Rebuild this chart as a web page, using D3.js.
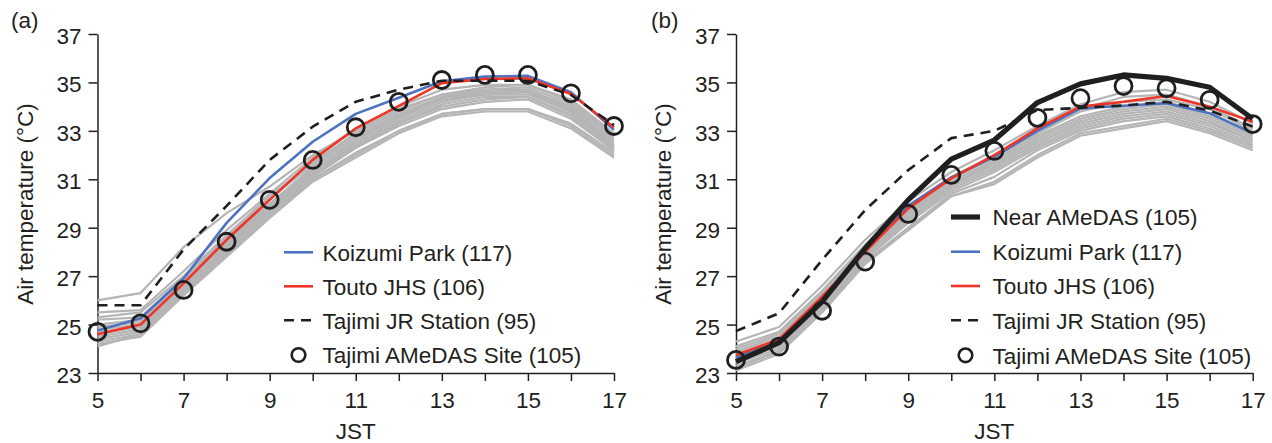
<!DOCTYPE html>
<html>
<head>
<meta charset="utf-8">
<script src="https://cdn.jsdelivr.net/npm/d3@7"></script>
<style>
  html, body { margin: 0; padding: 0; background: #fff; }
  svg { display: block; }
  text { font-family: "Liberation Sans", Arial, Helvetica, sans-serif; fill: #231f20; }
</style>
</head>
<body>
<svg id="chart" width="1272" height="443"></svg>
<script>
// ---------------- data ----------------
const hours = [5, 6, 7, 8, 9, 10, 11, 12, 13, 14, 15, 16, 17];
const yTicks = [23, 25, 27, 29, 31, 33, 35, 37];
const xTickLabels = ["5", "", "7", "", "9", "", "11", "", "13", "", "15", "", "17"];

// Panel (a)
const koizumiA = [24.75, 25.26, 26.9, 29.2, 31.05, 32.55, 33.7, 34.37, 35.05, 35.24, 35.27, 34.6, 33.04];
const toutoA   = [24.6, 25.0, 26.7, 28.5, 30.15, 31.8, 33.1, 34.03, 34.97, 35.14, 35.17, 34.52, 33.15];
const jrA      = [25.8, 25.8, 28.1, 29.9, 31.8, 33.17, 34.2, 34.7, 35.07, 35.07, 35.07, 34.48, 33.24];
const amedasA  = [24.7, 25.05, 26.43, 28.42, 30.15, 31.8, 33.15, 34.2, 35.1, 35.31, 35.31, 34.55, 33.2];
const grayA = [
  [26.0, 26.3, 28.2, 29.6, 30.7, 32.0, 33.0, 33.9, 34.5, 34.8, 34.9, 34.2, 32.8],
  [25.5, 25.6, 27.2, 28.9, 30.4, 31.9, 33.1, 34.0, 34.7, 34.9, 34.9, 34.3, 32.9],
  [25.3, 25.5, 27.0, 28.7, 30.3, 31.7, 32.9, 33.8, 34.5, 34.7, 34.8, 34.1, 32.7],
  [25.2, 25.3, 26.9, 28.6, 30.2, 31.6, 32.8, 33.7, 34.4, 34.7, 34.7, 34.0, 32.6],
  [25.0, 25.2, 26.8, 28.5, 30.0, 31.5, 32.7, 33.6, 34.4, 34.6, 34.7, 33.9, 32.5],
  [24.9, 25.1, 26.7, 28.4, 29.9, 31.4, 32.6, 33.6, 34.3, 34.6, 34.6, 33.9, 32.4],
  [24.8, 25.0, 26.6, 28.3, 29.9, 31.3, 32.5, 33.5, 34.3, 34.5, 34.6, 33.8, 32.4],
  [24.7, 24.9, 26.6, 28.2, 29.8, 31.3, 32.4, 33.4, 34.2, 34.5, 34.5, 33.8, 32.3],
  [24.6, 24.9, 26.5, 28.2, 29.7, 31.2, 32.4, 33.3, 34.1, 34.4, 34.4, 33.7, 32.3],
  [24.5, 24.8, 26.4, 28.1, 29.7, 31.2, 32.3, 33.3, 34.0, 34.3, 34.4, 33.6, 32.2],
  [24.4, 24.7, 26.4, 28.0, 29.6, 31.1, 32.3, 33.2, 33.9, 34.2, 34.3, 33.5, 32.2],
  [24.3, 24.6, 26.3, 27.9, 29.5, 31.0, 32.1, 33.0, 33.7, 33.9, 33.9, 33.3, 32.1],
  [24.2, 24.5, 26.2, 27.8, 29.4, 30.9, 31.9, 32.9, 33.6, 33.8, 33.8, 33.1, 31.9],
  [24.1, 24.6, 26.3, 27.9, 29.5, 31.0, 32.0, 33.0, 33.7, 33.9, 33.9, 33.2, 32.0]
];

// Panel (b)
const nearB    = [23.47, 24.25, 25.95, 28.15, 30.15, 31.83, 32.62, 34.17, 34.94, 35.31, 35.17, 34.8, 33.5];
const koizumiB = [23.65, 24.33, 26.0, 28.05, 29.9, 31.08, 31.93, 33.0, 33.93, 34.04, 34.14, 33.73, 32.9];
const toutoB   = [23.74, 24.39, 26.15, 28.0, 29.8, 31.04, 32.0, 33.1, 34.0, 34.2, 34.44, 34.0, 33.38];
const jrB      = [24.73, 25.47, 27.67, 29.73, 31.38, 32.7, 33.0, 33.86, 33.95, 34.05, 34.2, 33.84, 33.18];
const amedasB  = [23.54, 24.09, 25.57, 27.6, 29.57, 31.18, 32.17, 33.54, 34.35, 34.85, 34.76, 34.28, 33.28];
const grayB = [
  [24.3, 24.9, 26.6, 28.5, 30.1, 31.3, 32.2, 33.2, 34.1, 34.6, 34.7, 34.2, 33.3],
  [24.1, 24.7, 26.4, 28.3, 29.9, 31.1, 32.0, 33.0, 33.9, 34.4, 34.5, 34.0, 33.1],
  [24.0, 24.6, 26.3, 28.2, 29.8, 31.0, 31.9, 32.9, 33.8, 34.2, 34.3, 33.9, 33.0],
  [23.9, 24.5, 26.2, 28.1, 29.7, 30.9, 31.8, 32.8, 33.6, 34.0, 34.2, 33.7, 32.9],
  [23.8, 24.4, 26.1, 28.0, 29.6, 30.8, 31.7, 32.7, 33.5, 33.9, 34.1, 33.6, 32.8],
  [23.7, 24.3, 26.0, 27.9, 29.5, 30.8, 31.6, 32.6, 33.4, 33.8, 34.0, 33.5, 32.7],
  [23.6, 24.2, 25.9, 27.9, 29.4, 30.7, 31.5, 32.5, 33.3, 33.7, 33.9, 33.4, 32.6],
  [23.5, 24.1, 25.9, 27.8, 29.3, 30.6, 31.4, 32.4, 33.2, 33.6, 33.8, 33.3, 32.6],
  [23.4, 24.0, 25.8, 27.7, 29.2, 30.5, 31.3, 32.3, 33.1, 33.5, 33.7, 33.2, 32.5],
  [23.3, 23.9, 25.7, 27.6, 29.0, 30.4, 31.1, 32.2, 33.0, 33.4, 33.6, 33.1, 32.4],
  [23.2, 23.9, 25.6, 27.6, 28.9, 30.3, 30.9, 32.0, 32.9, 33.2, 33.5, 33.0, 32.3],
  [23.1, 23.8, 25.5, 27.5, 28.9, 30.3, 30.8, 31.9, 32.8, 33.1, 33.4, 32.9, 32.2]
];

const legendA = ["Koizumi Park (117)", "Touto JHS (106)", "Tajimi JR Station (95)", "Tajimi AMeDAS Site (105)"];
const legendB = ["Near AMeDAS (105)", "Koizumi Park (117)", "Touto JHS (106)", "Tajimi JR Station (95)", "Tajimi AMeDAS Site (105)"];

// ---------------- styles ----------------
const C = { gray: "#b5b5b5", blue: "#4d73c0", red: "#ef3526", black: "#1f1f1f", axis: "#231f20" };
const FS = 22.5;

const svg = d3.select("#chart");

function panel(opts) {
  const x = d3.scaleLinear().domain([5, 17]).range([opts.x0, opts.x1]);
  const y = d3.scaleLinear().domain([23, 37]).range([373, 34]);
  const g = svg.append("g");

  // axes
  const ya = g.append("g").attr("transform", `translate(${opts.x0},0)`)
    .call(d3.axisLeft(y).tickValues(yTicks).tickSize(9).tickPadding(7).tickSizeOuter(0));
  const xa = g.append("g").attr("transform", `translate(0,373)`)
    .call(d3.axisBottom(x).tickValues(hours).tickFormat((d, i) => xTickLabels[i]).tickSize(8).tickPadding(11).tickSizeOuter(0));
  [ya, xa].forEach(a => {
    a.select(".domain").attr("stroke", C.axis).attr("stroke-width", 1.5);
    a.selectAll(".tick line").attr("stroke", C.axis).attr("stroke-width", 1.5);
    a.selectAll(".tick text").attr("font-size", FS).attr("fill", C.axis)
      .style("font-family", '"Liberation Sans", Arial, sans-serif');
  });
  ya.selectAll(".tick text").attr("dy", "0.42em");

  // titles
  g.append("text").attr("x", opts.lx).attr("y", 28).attr("font-size", FS).text(opts.label);
  g.append("text").attr("transform", `translate(${opts.x0 - 65},204) rotate(-90)`)
    .attr("text-anchor", "middle").attr("font-size", FS).text("Air temperature (°C)");
  g.append("text").attr("x", (opts.x0 + opts.x1) / 2).attr("y", 439)
    .attr("text-anchor", "middle").attr("font-size", FS).text("JST");

  const line = d3.line().x((d, i) => x(hours[i])).y(d => y(d));

  // gray lines
  g.append("g").selectAll("path").data(opts.gray).join("path")
    .attr("d", line).attr("fill", "none").attr("stroke", C.gray).attr("stroke-width", 2.2)
    .attr("stroke-linejoin", "round");

  opts.series.forEach(s => {
    g.append("path").datum(s.data).attr("d", line).attr("fill", "none")
      .attr("stroke", s.color).attr("stroke-width", s.width)
      .attr("stroke-dasharray", s.dash || null).attr("stroke-linejoin", "round");
  });

  // circles
  g.append("g").selectAll("circle").data(opts.circles).join("circle")
    .attr("cx", (d, i) => x(hours[i])).attr("cy", d => y(d)).attr("r", 8.5)
    .attr("fill", "none").attr("stroke", C.black).attr("stroke-width", 2.8);

  // legend
  const lg = g.append("g");
  opts.legend.forEach((name, i) => {
    const ry = opts.legendY[i];
    const it = opts.legendItems[i];
    if (it.type === "line") {
      lg.append("line").attr("x1", opts.legX).attr("x2", opts.legX + 29).attr("y1", ry).attr("y2", ry)
        .attr("stroke", it.color).attr("stroke-width", it.width).attr("stroke-dasharray", it.dash || null);
    } else {
      lg.append("circle").attr("cx", opts.legX + 14.5).attr("cy", ry).attr("r", 6.8)
        .attr("fill", "none").attr("stroke", C.black).attr("stroke-width", 2.6);
    }
    lg.append("text").attr("x", opts.legTextX).attr("y", ry + 8.3).attr("font-size", FS).text(name);
  });
}

panel({
  x0: 97.5, x1: 614, lx: 11, label: "(a)",
  gray: grayA,
  series: [
    { data: koizumiA, color: C.blue, width: 2.6 },
    { data: toutoA, color: C.red, width: 2.6 },
    { data: jrA, color: C.black, width: 2.6, dash: "10,7" }
  ],
  circles: amedasA,
  legend: legendA,
  legendY: [252.3, 286.3, 320.3, 355],
  legendItems: [
    { type: "line", color: C.blue, width: 2.6 },
    { type: "line", color: C.red, width: 2.6 },
    { type: "line", color: C.black, width: 2.6, dash: "10,7" },
    { type: "circle" }
  ],
  legX: 284, legTextX: 322.5
});

panel({
  x0: 736, x1: 1252.7, lx: 651, label: "(b)",
  gray: grayB,
  series: [
    { data: koizumiB, color: C.blue, width: 2.6 },
    { data: toutoB, color: C.red, width: 2.6 },
    { data: jrB, color: C.black, width: 2.6, dash: "10,7" },
    { data: nearB, color: C.black, width: 5.2 }
  ],
  circles: amedasB,
  legend: legendB,
  legendY: [217, 251.7, 286, 320.3, 355.3],
  legendItems: [
    { type: "line", color: C.black, width: 5.2 },
    { type: "line", color: C.blue, width: 2.6 },
    { type: "line", color: C.red, width: 2.6 },
    { type: "line", color: C.black, width: 2.6, dash: "10,7" },
    { type: "circle" }
  ],
  legX: 951, legTextX: 992.5
});
</script>
</body>
</html>
